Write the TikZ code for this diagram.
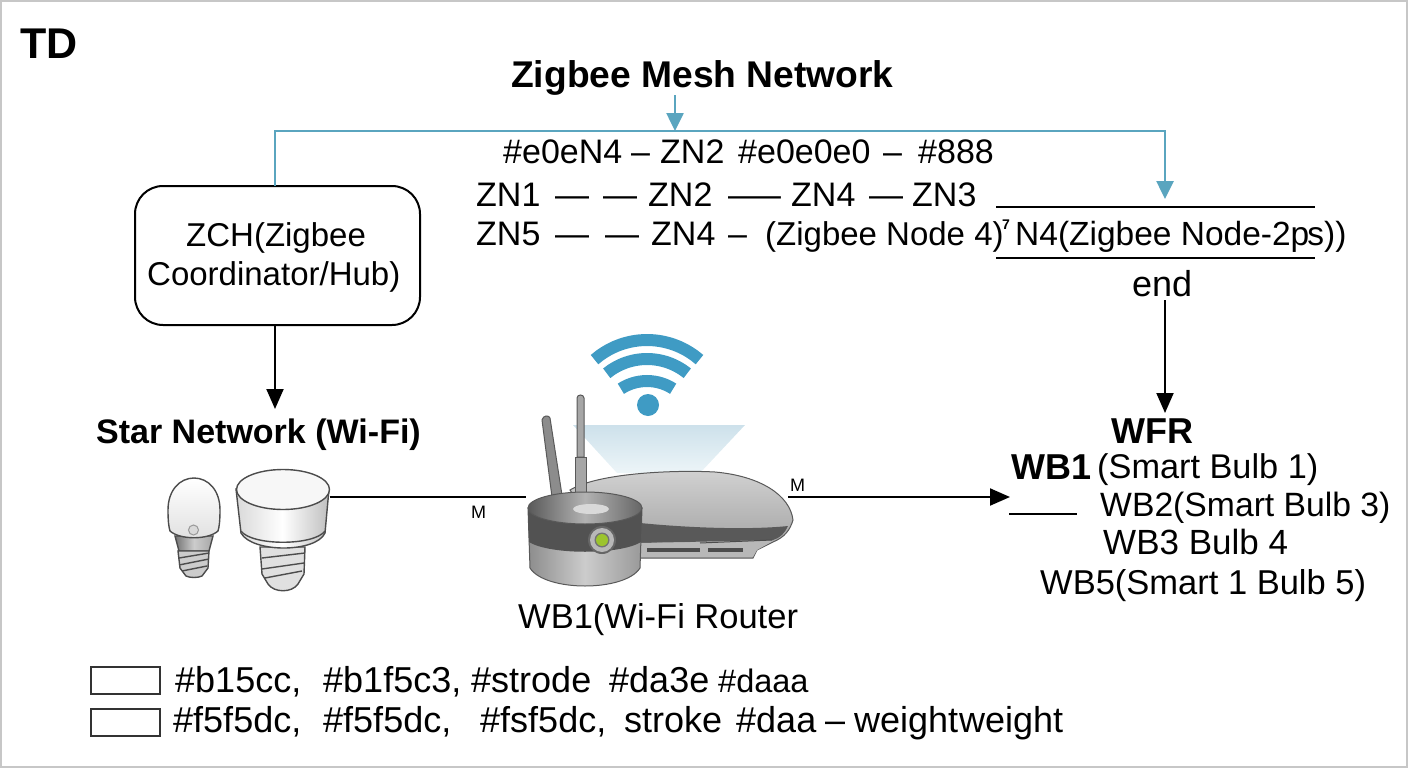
\documentclass[tikz,border=0pt]{standalone}
\usepackage{fontspec}
\setmainfont{Liberation Sans}
\usetikzlibrary{arrows.meta}
\definecolor{wifiblue}{HTML}{3F9BC4}
\definecolor{linkblue}{HTML}{5AA5BF}
\definecolor{fantop}{HTML}{CDE1EB}
\definecolor{fanbot}{HTML}{EDF5F8}
\definecolor{ledgreen}{HTML}{9CC42E}
\tikzset{
	lbl/.style={anchor=base west,inner sep=0pt,font=\fontsize{34}{34}\selectfont},
	head/.style={anchor=base west,inner sep=0pt,font=\bfseries\fontsize{36}{36}\selectfont},
	legendtxt/.style={anchor=base west,inner sep=0pt,font=\fontsize{36}{36}\selectfont},
	legendbox/.style={draw=black!80,line width=2pt,fill=white,minimum width=69pt,minimum height=27pt,inner sep=0pt},
	tinylbl/.style={anchor=base west,inner sep=0pt,font=\fontsize{18}{18}\selectfont},
	conn/.style={line width=2pt,black},
	blk/.style={conn,-{Triangle[length=20pt,width=17pt]}},
	blu/.style={line width=2.600pt,linkblue,-{Triangle[length=18pt,width=17pt]}},
	bulbline/.style={draw=black!70,line width=1.400pt},
	routerline/.style={draw=black!65,line width=1pt}
}
\begin{document}
\begin{tikzpicture}[x=1pt,y=-1pt]
	\useasboundingbox (0,0) rectangle (1408,768);
	\draw [black!22,line width=2pt] (1,1) rectangle (1407,767);

	\node [head,font=\bfseries\fontsize{43}{43}\selectfont] (td) at (20,59) {TD};
	\node [head,font=\bfseries\fontsize{37.200}{37.200}\selectfont] (mesh) at (511,87) {Zigbee Mesh Network};

	%hub
	\node [draw,line width=2pt,rounded corners=28pt,minimum width=285pt,minimum height=139pt,inner sep=0pt] (zch) at (277.500,255.500) {};
	\node [lbl,font=\fontsize{33}{33}\selectfont] (zcha) at (186,246) {ZCH(Zigbee};
	\node [lbl,font=\fontsize{33}{33}\selectfont] (zchb) at (147,285) {Coordinator/Hub)};

	%mesh lines
	\foreach \x/\t in {503/\#e0eN4,631/–,660/ZN2,738/\#e0e0e0,883/–,918/\#888}
		\node [lbl] (rowa\x) at (\x,163) {\t};
	\foreach \x/\t in {476/ZN1,555/—,603/—,648/ZN2,728/—–,791/ZN4,869/—,912/ZN3}
		\node [lbl] (rowb\x) at (\x,206) {\t};
	\foreach \x/\t in {476/ZN5,555/—,605/—,651/ZN4,728/–}
		\node [lbl] (rowc\x) at (\x,245) {\t};
	\node [lbl,font=\fontsize{33}{33}\selectfont] (zna) at (765,245) {(Zigbee Node 4)};
	\node [tinylbl,font=\bfseries\fontsize{14}{14}\selectfont] (sevn) at (1002,229) {7};
	\node [lbl,font=\fontsize{33.500}{33.500}\selectfont] (rowd) at (1015,245) {N4(Zigbee Node-2p\kern-2pt s))};
	\node [lbl,font=\fontsize{36}{36}\selectfont] (endn) at (1132,296) {end};
	\coordinate (ruleal) at (996,207);
	\coordinate (ruleab) at (1315,207);
	\coordinate (rulebl) at (996,258);
	\coordinate (rulebb) at (1315,258);
	\draw [conn] (ruleal) -- (ruleab);
	\draw [conn] (rulebl) -- (rulebb);

	%blue links
	\coordinate (meshup) at (675,95);
	\coordinate (meshdn) at (675,131);
	\coordinate (hubup) at (275,186);
	\coordinate (hubtop) at (275,131);
	\coordinate (ruletop) at (1165,199);
	\draw [blu] (meshup) -- (meshdn);
	\draw [blu] (hubup) -- (hubtop) -| (ruletop);

	%star side
	\node [head,font=\bfseries\fontsize{34}{34}\selectfont] (star) at (96,443) {Star Network (Wi-Fi)};
	\coordinate (hubdn) at (275,325);
	\coordinate (starup) at (275,409);
	\draw [blk] (hubdn) -- (starup);

	%small bulb
	\draw [bulbline,left color=black!55,right color=black!35,middle color=black!20] (175,536) -- (179,551) -- (209,551) -- (213,536) -- cycle;
	\draw [bulbline,fill=black!20] (178,551) -- (180,568) -- (186,576) .. controls (190,578) and (198,578) .. (202,576) -- (208,568) -- (209,551) -- cycle;
	\draw [bulbline] (179,558) -- (209,553);
	\draw [bulbline] (179,565) -- (209,559);
	\draw [bulbline] (182,571) -- (207,566);
	\draw [bulbline,top color=white,bottom color=black!12] (168,510) .. controls (168,490) and (180,478) .. (194,478) .. controls (208,478) and (220,490) .. (220,510) .. controls (220,522) and (219,528) .. (218,531) .. controls (208,540) and (180,540) .. (170,531) .. controls (169,528) and (168,522) .. (168,510) -- cycle;
	\draw [black!40,fill=black!15,line width=1pt] (193.500,530) circle (5pt);

	%big bulb
	\draw [bulbline,fill=black!12] (260,547) -- (262,574) -- (268,584) .. controls (274,593) and (292,593) .. (298,584) -- (304,574) -- (305,547) -- cycle;
	\draw [bulbline] (262,558) -- (305,553);
	\draw [bulbline] (262,569) -- (304,563);
	\draw [bulbline] (265,578) -- (302,571);
	\draw [bulbline,left color=black!15,right color=black!25,middle color=white] (236,489) -- (241,533) .. controls (252,553) and (316,553) .. (325,533) -- (329,489) -- cycle;
	\draw [bulbline] (241,531) .. controls (252,546) and (314,546) .. (325,531);
	\draw [bulbline,fill=black!3] (283,489.500) ellipse (46.500pt and 20pt);

	%wifi fan
	\shade [top color=fantop,bottom color=fanbot] (573,425) -- (745,425) -- (700,473) -- (617,473) -- cycle;
	\foreach \r/\c/\a in {80/420/41,64/423/39,48/429/33}
		\draw [wifiblue,line width=12pt] plot [smooth,domain=90-\a:90+\a,samples=15] ({647+\r*cos(\x)},{\c-\r*sin(\x)});
	\fill [wifiblue] (648,405) circle (11pt);

	%router body
	\draw [routerline,top color=black!18,bottom color=black!38] (570,490) .. controls (600,472) and (680,470) .. (715,472) .. controls (760,476) and (790,495) .. (793,520) .. controls (790,530) and (785,537) .. (773,542) -- (757,550) -- (753,558) -- (640,558) -- (590,520) -- cycle;
	\fill [black!65] (640,523) .. controls (690,528) and (750,530) .. (788,526) .. controls (785,533) and (780,538) .. (773,540) -- (640,543) -- cycle;
	\fill [black!28] (640,543) -- (773,541) -- (757,550) -- (753,557) -- (640,557) -- cycle;
	\fill [black!70] (647,548) rectangle (700,552);
	\fill [black!70] (708,548) rectangle (743,552);
	\draw [black!70,line width=1pt] (700,543) -- (772,540);

	%antennas
	\draw [routerline,fill=black!45] (542,420) .. controls (543,415) and (549,415) .. (550,418) -- (562,495) -- (552,497) -- cycle;
	\draw [routerline,fill=black!35] (577,398) .. controls (577,394) and (584,394) .. (584,398) -- (584,457) -- (577,457) -- cycle;
	\draw [routerline,fill=black!35] (575,457) -- (586,457) -- (586,492) -- (575,492) -- cycle;

	%round front part
	\draw [routerline,left color=black!45,right color=black!40,middle color=black!20] (528,508) -- (530,568) .. controls (545,592) and (625,592) .. (640,568) -- (642,508) -- cycle;
	\fill [black!68] (528,508) -- (529,542) .. controls (550,555) and (620,555) .. (641,542) -- (642,508) -- cycle;
	\draw [routerline,left color=black!65,right color=black!60,middle color=black!30] (585,508) ellipse (57pt and 16pt);
	\fill [black!15] (591,509) ellipse (18pt and 5pt);
	\fill [black!60] (602,540) circle (14pt);
	\fill [black!28] (602,540) circle (12pt);
	\fill [black!55] (602,540) circle (7.500pt);
	\fill [ledgreen] (602,540) circle (6pt);
	\node [lbl,font=\fontsize{34.500}{34.500}\selectfont] (router) at (518,628) {WB1(Wi-Fi Router};

	%wires
	\coordinate (bulbr) at (330,497);
	\coordinate (routl) at (526,497);
	\coordinate (routr) at (788,497);
	\coordinate (wbin) at (1010,497);
	\draw [conn] (bulbr) -- (routl);
	\draw [blk] (routr) -- (wbin);
	\node [tinylbl] (ma) at (471,518) {M};
	\node [tinylbl] (mb) at (790,491) {M};

	%bulb list
	\coordinate (enddn) at (1165,300);
	\coordinate (wfrup) at (1165,413);
	\draw [blk] (enddn) -- (wfrup);
	\node [head] (wfr) at (1111,443) {WFR};
	\node [head] (wba) at (1011,479) {WB1};
	\node [lbl,font=\fontsize{34.300}{34.300}\selectfont] (wbb) at (1097,478) {(Smart Bulb 1)};
	\node [lbl,font=\fontsize{33.700}{33.700}\selectfont] (wbc) at (1100,516) {WB2(Smart Bulb 3)};
	\node [lbl,font=\fontsize{35}{35}\selectfont] (wbd) at (1103,554) {WB3 Bulb 4};
	\node [lbl,font=\fontsize{34.500}{34.500}\selectfont] (wbe) at (1040,594) {WB5(Smart 1 Bulb 5)};
	\coordinate (shortl) at (1009,514);
	\coordinate (shortr) at (1077,514);
	\draw [conn] (shortl) -- (shortr);

	%legend
	\node [legendbox] (boxa) at (125.500,680.500) {};
	\node [legendbox] (boxb) at (125.500,722) {};
	\foreach \x/\t in {175/{\#b15cc,},323/{\#b1f5c3,},471/\#strode,609/\#da3e}
		\node [legendtxt] (lega\x) at (\x,692) {\t};
	\node [legendtxt,font=\fontsize{32.500}{32.500}\selectfont] (lega718) at (718,692) {\#daaa};
	\foreach \x/\t in {173/{\#f5f5dc,},323/{\#f5f5dc,},480/{\#fsf5dc,},624/stroke,736/\#daa,825/–,854/weight,959/weight}
		\node [legendtxt] (legb\x) at (\x,732) {\t};
\end{tikzpicture}
\end{document}
